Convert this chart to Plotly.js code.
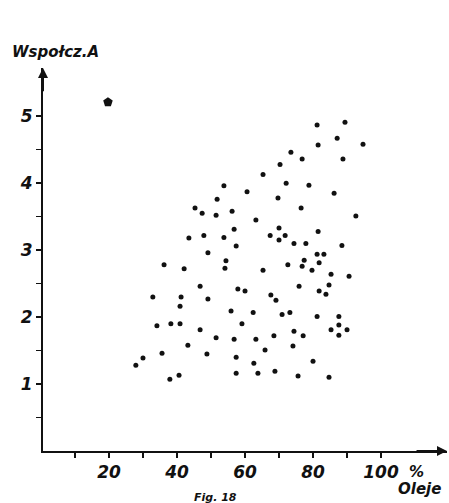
<!DOCTYPE html>
<html>
<head>
<meta charset="utf-8">
<script src="https://cdn.plot.ly/plotly-3.0.1.min.js"></script>
<style>html,body{margin:0;padding:0;background:#fff;}#chart{width:449px;height:503px;}</style>
</head>
<body>
<div id="chart"></div>
<script>
// Oil content (%) vs coefficient A
const oleje = [45.3,47.4,43.5,47.9,73.5,70.3,65.3,72.1,53.8,60.6,69.7,51.8,51.5,56.2,63.2,70.0,56.8,67.4,71.8,70.0,
  53.8,57.4,74.4,81.2,89.4,87.1,94.7,81.5,76.8,88.8,78.8,86.2,76.5,92.6,81.5,77.9,88.5,49.1,36.2,42.1,
  46.8,32.9,41.2,49.1,40.9,34.1,38.2,40.9,46.8,43.2,35.6,48.8,30.0,27.9,40.6,37.9,54.4,54.1,65.3,72.6,
  57.9,60.0,67.6,69.1,55.9,62.4,70.9,73.2,59.1,51.5,56.8,63.2,68.5,74.4,65.9,74.1,57.4,62.6,57.4,63.8,
  68.8,81.2,83.2,77.4,76.8,81.8,79.7,85.3,90.6,75.9,84.7,81.8,83.8,81.2,87.6,87.6,85.3,90.0,87.6,77.1,
  80.0,75.6,84.7];
const wspA = [3.63,3.55,3.18,3.22,4.46,4.28,4.13,4.00,3.96,3.87,3.78,3.76,3.52,3.58,3.45,3.33,3.31,3.22,3.22,3.15,
  3.19,3.06,3.10,4.87,4.91,4.67,4.58,4.57,4.36,4.36,3.97,3.85,3.63,3.51,3.28,3.10,3.07,2.96,2.78,2.72,
  2.46,2.30,2.30,2.27,2.16,1.87,1.90,1.90,1.81,1.58,1.46,1.45,1.39,1.28,1.13,1.07,2.84,2.73,2.70,2.78,
  2.42,2.39,2.33,2.25,2.09,2.07,2.04,2.07,1.90,1.69,1.67,1.67,1.72,1.79,1.51,1.57,1.40,1.31,1.16,1.16,
  1.19,2.94,2.94,2.85,2.76,2.81,2.70,2.64,2.61,2.46,2.48,2.39,2.34,2.01,2.01,1.88,1.81,1.81,1.73,1.72,
  1.34,1.12,1.10];
const blobX = [19.7];
const blobY = [5.21];

const xTickVals = [10,20,30,40,50,60,70,80,90,100];
const xTickText = ['', '20', '', '40', '', '60', '', '80', '', '100'];
const yTickVals = [0.5,1,1.5,2,2.5,3,3.5,4,4.5,5];
const yTickText = ['', '1', '', '2', '', '3', '', '4', '', '5'];

const FONT = 'DejaVu Sans';
const tickFont = {family: FONT, size: 17, color: '#111', weight: 'bold', style: 'italic'};

const data = [
  {x: oleje, y: wspA, type: 'scatter', mode: 'markers',
   marker: {color: '#111', size: 5}, hoverinfo: 'x+y'},
  {x: blobX, y: blobY, type: 'scatter', mode: 'markers',
   marker: {color: '#111', size: 10, symbol: 'pentagon'}, hoverinfo: 'x+y'}
];

const layout = {
  width: 449, height: 503,
  margin: {l: 43, r: 2, t: 68, b: 52},
  paper_bgcolor: '#fff', plot_bgcolor: '#fff',
  showlegend: false,
  xaxis: {range: [0.6, 119.4], showgrid: false, zeroline: false,
    showline: true, linecolor: '#111', linewidth: 2,
    tickmode: 'array', tickvals: xTickVals, ticktext: xTickText,
    ticks: 'outside', ticklen: 5, tickwidth: 1.5, tickcolor: '#111',
    tickfont: tickFont},
  yaxis: {range: [0, 5.72], showgrid: false, zeroline: false,
    showline: true, linecolor: '#111', linewidth: 2,
    tickmode: 'array', tickvals: yTickVals, ticktext: yTickText,
    ticks: 'outside', ticklen: 5, tickwidth: 1.5, tickcolor: '#111',
    tickfont: tickFont},
  annotations: [
    {x: 0.6, y: 5.72, ax: 0.6, ay: 5.35, xref: 'x', yref: 'y', axref: 'x', ayref: 'y',
     showarrow: true, arrowhead: 2, arrowsize: 1, arrowwidth: 2, arrowcolor: '#111', text: ''},
    {x: 119.4, y: 0, ax: 110, ay: 0, xref: 'x', yref: 'y', axref: 'x', ayref: 'y',
     showarrow: true, arrowhead: 2, arrowsize: 1, arrowwidth: 2, arrowcolor: '#111', text: ''},
    {xref: 'paper', yref: 'paper', x: -0.082, y: 1.042, xanchor: 'left', yanchor: 'middle',
     text: 'Wspołcz.A', showarrow: false,
     font: {family: FONT, size: 15, color: '#111', weight: 'bold', style: 'italic'}},
    {xref: 'paper', yref: 'paper', x: 0.925, y: -0.054, xanchor: 'center', yanchor: 'middle',
     text: '%', showarrow: false,
     font: {family: FONT, size: 15, color: '#111', weight: 'bold', style: 'italic'}},
    {xref: 'paper', yref: 'paper', x: 0.933, y: -0.1, xanchor: 'center', yanchor: 'middle',
     text: 'Oleje', showarrow: false,
     font: {family: FONT, size: 15, color: '#111', weight: 'bold', style: 'italic'}},
    {xref: 'paper', yref: 'paper', x: 0.426, y: -0.1, xanchor: 'center', yanchor: 'top',
     text: 'Fig. 18', showarrow: false,
     font: {family: FONT, size: 11, color: '#111', weight: 'bold', style: 'italic'}}
  ]
};

Plotly.newPlot('chart', data, layout, {displayModeBar: false, staticPlot: true});
</script>
</body>
</html>
